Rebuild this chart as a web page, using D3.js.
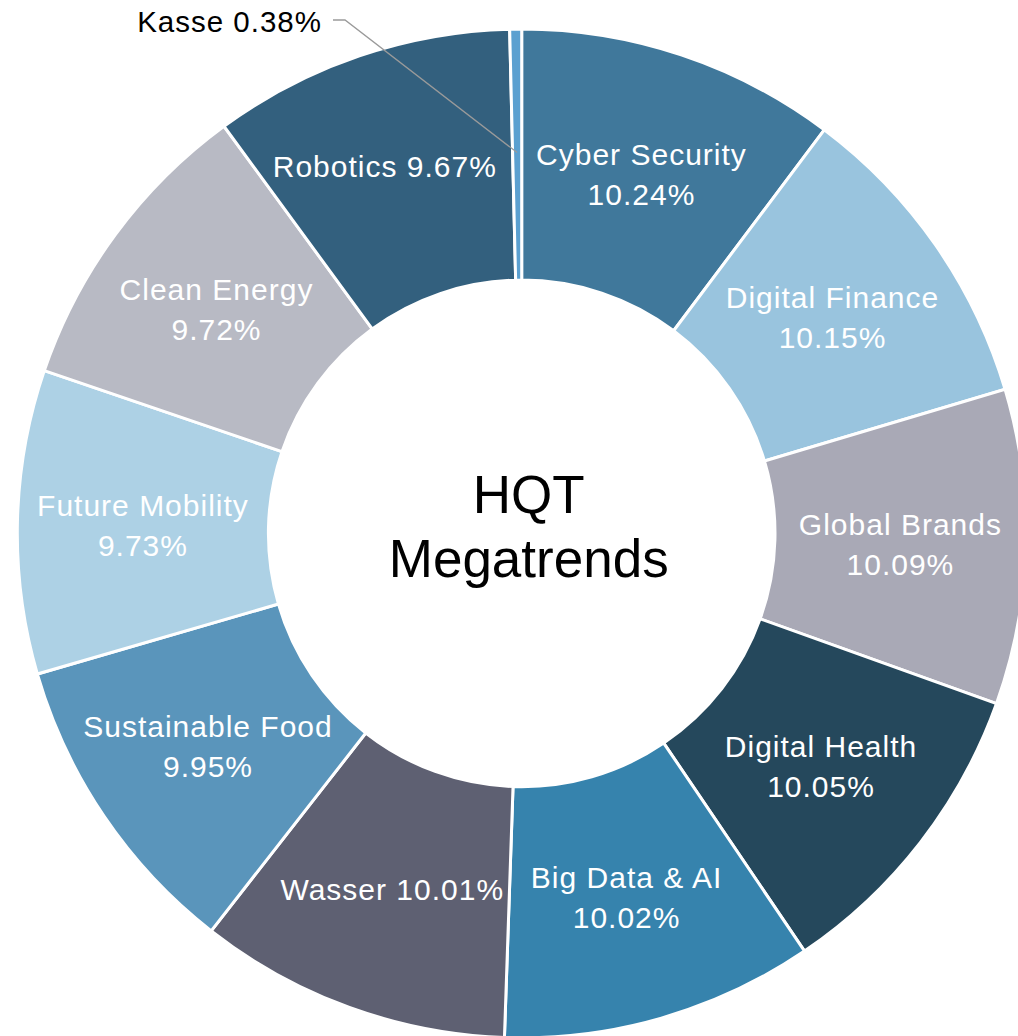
<!DOCTYPE html>
<html>
<head>
<meta charset="utf-8">
<script src="https://cdn.jsdelivr.net/npm/d3@7"></script>
<style>
  html, body { margin: 0; padding: 0; background: #ffffff; }
  svg { display: block; }
</style>
</head>
<body>
<svg id="chart" width="1018" height="1036"></svg>
<script>
// ---- data ----
const categories = ["Cyber Security", "Digital Finance", "Global Brands", "Digital Health", "Big Data & AI",
                    "Wasser", "Sustainable Food", "Future Mobility", "Clean Energy", "Robotics", "Kasse"];
const values = [10.24, 10.15, 10.09, 10.05, 10.02, 10.01, 9.95, 9.73, 9.72, 9.67, 0.38];
const colors = ["#40789b", "#99c4de", "#a9a9b6", "#25485c", "#3683ad",
                "#5e6072", "#5a95bb", "#add1e5", "#b8bac4", "#33607e", "#5ba0d0"];
// label line breaks: true = two lines (name / value), false = single line
const twoLine = [true, true, true, true, true, false, true, true, true, false, false];
const outsideLabel = [false, false, false, false, false, false, false, false, false, false, true];
const centerTitle = ["HQT", "Megatrends"];

// ---- layout ----
const cx = 521.7, cy = 533.4, R = 504.4, r = 253.3;
// small label nudges (layout only), [dx, dy] per category
const labelNudge = { "Robotics": [-15, -9] };

const svg = d3.select("#chart");
const g = svg.append("g").attr("transform", `translate(${cx},${cy})`);

const data = categories.map((c, i) => ({ name: c, value: values[i], color: colors[i],
  two: twoLine[i], outside: outsideLabel[i] }));

const pie = d3.pie().value(d => d.value).sort(null);
const arcs = pie(data);
const arc = d3.arc().innerRadius(r).outerRadius(R);
const labelArc = d3.arc().innerRadius(r).outerRadius(R);

g.selectAll("path.slice").data(arcs).join("path")
  .attr("class", "slice")
  .attr("d", arc)
  .attr("fill", d => d.data.color)
  .attr("stroke", "#ffffff")
  .attr("stroke-width", 3)
  .attr("stroke-linejoin", "miter");

const font = "'Liberation Sans', Arial, Helvetica, sans-serif";

// inside labels
g.selectAll("text.lbl").data(arcs.filter(d => !d.data.outside)).join("text")
  .attr("class", "lbl")
  .attr("font-family", font)
  .attr("font-size", 30)
  .attr("letter-spacing", 1)
  .attr("fill", "#ffffff")
  .attr("text-anchor", "middle")
  .each(function(d) {
    let [x, y] = labelArc.centroid(d);
    const n = labelNudge[d.data.name];
    if (n) { x += n[0]; y += n[1]; }
    const t = d3.select(this);
    const pct = d.data.value.toFixed(2) + "%";
    if (d.data.two) {
      t.append("tspan").attr("x", x).attr("y", y - 9).text(d.data.name);
      t.append("tspan").attr("x", x).attr("y", y + 31).text(pct);
    } else {
      t.append("tspan").attr("x", x).attr("y", y + 11).text(d.data.name + " " + pct);
    }
  });

// outside label (Kasse) with leader line
arcs.filter(d => d.data.outside).forEach(d => {
  const [x0, y0] = d3.arc().innerRadius(R * 0.755).outerRadius(R * 0.755).centroid(d);
  const ex = -176.7, ey = -513.4;   // elbow point relative to center
  const hx = ex - 12;
  g.append("polyline")
    .attr("points", `${x0},${y0} ${ex},${ey} ${hx},${ey}`)
    .attr("fill", "none")
    .attr("stroke", "#9a9a9a")
    .attr("stroke-width", 1.3);
  g.append("text")
    .attr("x", hx - 11)
    .attr("y", ey + 12)
    .attr("text-anchor", "end")
    .attr("font-family", font)
    .attr("font-size", 29.5)
    .attr("letter-spacing", 1)
    .attr("fill", "#000000")
    .text(d.data.name + " " + d.data.value.toFixed(2) + "%");
});

// center title
const ct = g.append("text")
  .attr("text-anchor", "middle")
  .attr("font-family", font)
  .attr("font-size", 53)
  .attr("fill", "#000000");
ct.append("tspan").attr("x", 7).attr("y", -20).text(centerTitle[0]);
ct.append("tspan").attr("x", 7).attr("y", 44).text(centerTitle[1]);
</script>
</body>
</html>
